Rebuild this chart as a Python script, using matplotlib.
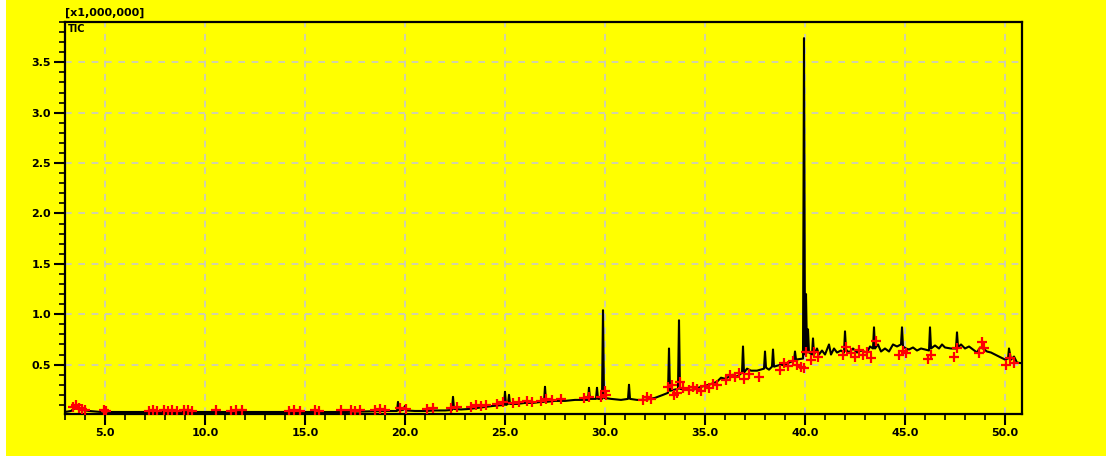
import matplotlib
matplotlib.use("Agg")
import matplotlib.pyplot as plt
from matplotlib.ticker import MultipleLocator

# chromatogram trace (min, intensity x1,000,000)
trace_t = [3.0, 3.3, 3.5, 3.7, 3.9, 4.2, 4.5, 4.8, 5.0, 5.2, 6.0, 7.0, 8.0, 9.0, 10.0,
           11.0, 12.0, 13.0, 14.0, 15.0, 16.0, 17.0, 18.0, 19.0, 19.6, 19.65, 19.7, 19.9,
           20.0, 20.05, 20.5, 21.0, 21.5, 22.0, 22.35, 22.4, 22.45, 22.8, 23.2, 23.6, 24.0,
           24.4, 24.95, 25.0, 25.05, 25.15, 25.2, 25.25, 25.6, 26.0, 26.4, 26.8, 26.95, 27.0,
           27.05, 27.5, 28.0, 28.5, 29.15, 29.2, 29.25, 29.55, 29.6, 29.65, 29.85, 29.9,
           29.95, 30.3, 30.8, 31.15, 31.2, 31.25, 31.6, 32.0, 32.5, 32.9, 33.15, 33.2, 33.25,
           33.65, 33.7, 33.75, 34.0, 34.4, 34.8, 35.2, 35.6, 35.8, 36.0, 36.4, 36.6, 36.85,
           36.9, 36.95, 37.1, 37.3, 37.6, 37.95, 38.0, 38.05, 38.2, 38.35, 38.4, 38.45, 38.8,
           39.0, 39.2, 39.45, 39.5, 39.55, 39.9, 39.95, 40.0, 40.05, 40.1, 40.15, 40.2, 40.35,
           40.4, 40.45, 40.6, 40.7, 40.85, 41.0, 41.2, 41.3, 41.45, 41.6, 41.8, 41.95, 42.0,
           42.05, 42.2, 42.4, 42.6, 42.8, 43.1, 43.25, 43.4, 43.45, 43.5, 43.65, 43.8, 44.0,
           44.2, 44.4, 44.6, 44.8, 44.85, 44.9, 45.05, 45.2, 45.4, 45.6, 45.8, 46.0, 46.2,
           46.25, 46.3, 46.5, 46.7, 46.85, 47.0, 47.3, 47.55, 47.6, 47.65, 47.8, 48.0, 48.2,
           48.4, 48.6, 48.75, 48.9, 49.1, 49.3, 49.5, 49.7, 50.0, 50.15, 50.2, 50.3, 50.45,
           50.6, 51.0]
trace_y = [0.03, 0.04, 0.07, 0.06, 0.05, 0.04, 0.035, 0.03, 0.04, 0.03, 0.03, 0.03, 0.03, 0.03, 0.03,
           0.03, 0.03, 0.03, 0.03, 0.03, 0.03, 0.03, 0.035, 0.04, 0.04, 0.13, 0.045, 0.05,
           0.09, 0.045, 0.04, 0.04, 0.045, 0.045, 0.05, 0.18, 0.06, 0.055, 0.06, 0.07, 0.08,
           0.09, 0.1, 0.23, 0.1, 0.11, 0.2, 0.11, 0.11, 0.12, 0.12, 0.13, 0.13, 0.28,
           0.13, 0.14, 0.14, 0.15, 0.15, 0.27, 0.16, 0.16, 0.27, 0.16, 0.16, 1.04,
           0.17, 0.16, 0.15, 0.16, 0.3, 0.16, 0.15, 0.15, 0.17, 0.2, 0.22, 0.66, 0.24,
           0.26, 0.94, 0.26, 0.25, 0.25, 0.28, 0.3, 0.33, 0.37, 0.36, 0.4, 0.38, 0.42,
           0.68, 0.42, 0.46, 0.44, 0.44, 0.46, 0.63, 0.47, 0.45, 0.48, 0.65, 0.48, 0.5,
           0.49, 0.52, 0.54, 0.63, 0.55, 0.56, 3.74, 0.6, 1.2, 0.62, 0.85, 0.62, 0.6,
           0.76, 0.6, 0.66, 0.6, 0.64, 0.6, 0.7, 0.6, 0.66, 0.62, 0.64, 0.62, 0.83,
           0.65, 0.62, 0.66, 0.62, 0.64, 0.62, 0.68, 0.66, 0.87, 0.66, 0.7, 0.63, 0.66,
           0.63, 0.7, 0.68, 0.7, 0.87, 0.68, 0.66, 0.65, 0.67, 0.64, 0.66, 0.65, 0.64,
           0.87, 0.66, 0.69, 0.66, 0.7, 0.67, 0.66, 0.66, 0.82, 0.67, 0.7, 0.66, 0.68,
           0.65, 0.62, 0.67, 0.66, 0.63, 0.62, 0.6, 0.58, 0.55, 0.56, 0.66, 0.55, 0.58,
           0.52, 0.51]

# detected peak markers
peak_t = [3.4, 3.55, 3.7, 3.85, 4.0, 4.95, 5.05,
          7.2, 7.4, 7.6, 7.95, 8.15, 8.35, 8.6, 8.95, 9.15, 9.35, 10.55, 11.3, 11.55, 11.85,
          14.2, 14.45, 14.75, 15.5, 15.7, 16.8, 17.3, 17.5, 17.75, 18.5, 18.75, 19.0, 19.75,
          20.05, 21.1, 21.4, 22.3, 22.6,
          23.3, 23.55, 23.8, 24.05, 24.6, 24.9, 25.4, 25.7, 26.1, 26.35, 26.8, 27.05, 27.35,
          27.8, 28.95, 29.2, 29.8, 30.05, 30.0, 31.9, 32.1, 32.3, 33.45, 33.6, 33.15, 33.35,
          33.75, 33.9, 34.2, 34.4, 34.6, 34.8, 35.0, 35.2, 35.4, 35.6, 36.05, 36.25, 36.5,
          36.7, 36.95, 37.2, 37.7, 38.75, 38.95, 39.15, 39.4, 39.6, 39.8, 39.95, 40.05, 40.3,
          40.45, 40.65, 41.9, 42.05, 42.3, 42.5, 42.7, 42.9, 43.1, 43.3, 43.55, 44.7, 44.9,
          45.05, 46.15, 46.3, 47.45, 47.6, 48.7, 48.85, 48.95, 50.05, 50.25, 50.45]
peak_y = [0.08, 0.1, 0.07, 0.06, 0.05, 0.05, 0.04,
          0.04, 0.05, 0.04, 0.05, 0.04, 0.05, 0.04, 0.05, 0.05, 0.04, 0.05, 0.04, 0.05, 0.05,
          0.04, 0.05, 0.04, 0.05, 0.04, 0.05, 0.05, 0.04, 0.05, 0.05, 0.06, 0.05, 0.07,
          0.06, 0.06, 0.07, 0.07, 0.08,
          0.08, 0.1, 0.09, 0.1, 0.11, 0.13, 0.12, 0.13, 0.14, 0.13, 0.14, 0.16, 0.15,
          0.16, 0.17, 0.18, 0.18, 0.2, 0.24, 0.15, 0.18, 0.16, 0.2, 0.22, 0.28, 0.3,
          0.33, 0.27, 0.25, 0.28, 0.26, 0.24, 0.29, 0.27, 0.31, 0.3, 0.35, 0.4, 0.38,
          0.42, 0.36, 0.41, 0.38, 0.45, 0.52, 0.49, 0.54, 0.5, 0.48, 0.47, 0.63, 0.55,
          0.63, 0.58, 0.6, 0.67, 0.62, 0.58, 0.65, 0.6, 0.63, 0.57, 0.73, 0.6, 0.64,
          0.62, 0.56, 0.6, 0.58, 0.66, 0.62, 0.72, 0.66, 0.5, 0.57, 0.52]

x_major = [5.0, 10.0, 15.0, 20.0, 25.0, 30.0, 35.0, 40.0, 45.0, 50.0]
y_major = [0.5, 1.0, 1.5, 2.0, 2.5, 3.0, 3.5]

W, H = 1108, 459
fig = plt.figure(figsize=(W / 100, H / 100), dpi=100, facecolor="white")

# yellow panel behind everything
bg = fig.add_axes([6 / W, 3 / H, 1100 / W, 456 / H], zorder=-5)
bg.set_facecolor("#ffff00")
bg.set_xticks([])
bg.set_yticks([])
for s in bg.spines.values():
    s.set_visible(False)

ax = fig.add_axes([65 / W, 1 - 414 / H, 957 / W, 392 / H])
ax.set_facecolor("#ffff00")

ax.plot(trace_t, trace_y, color="black", lw=1.5, zorder=3)
ax.plot(peak_t, peak_y, ls="none", marker="+", color="red", ms=7, mew=1.6, zorder=4)

ax.set_xlim(3.0, 50.85)
ax.set_ylim(0.01, 3.9)
ax.set_xticks(x_major)
ax.set_xticklabels([f"{v:.1f}" for v in x_major])
ax.set_yticks(y_major)
ax.set_yticklabels([f"{v:.1f}" for v in y_major])
ax.xaxis.set_minor_locator(MultipleLocator(1.0))
ax.yaxis.set_minor_locator(MultipleLocator(0.1))

ax.tick_params(which="major", direction="out", length=8, width=1.5, color="black",
               labelsize=8, pad=2)
ax.tick_params(which="minor", direction="out", length=4, width=1.2, color="black")
for lab in ax.get_xticklabels() + ax.get_yticklabels():
    lab.set_fontweight("bold")

for s in ax.spines.values():
    s.set_linewidth(1.6)
    s.set_color("black")

ax.grid(True, which="major", color="#c8c8c8", ls=(0, (4, 4)), lw=1.2, zorder=1)

fig.text(65 / W, 1 - 13 / H, "[x1,000,000]", fontsize=8, fontweight="bold", va="center", ha="left")
ax.text(0.003, 0.995, "TIC", transform=ax.transAxes, fontsize=7, fontweight="bold",
        va="top", ha="left")

fig.savefig("out.png", dpi=100, facecolor=fig.get_facecolor())
